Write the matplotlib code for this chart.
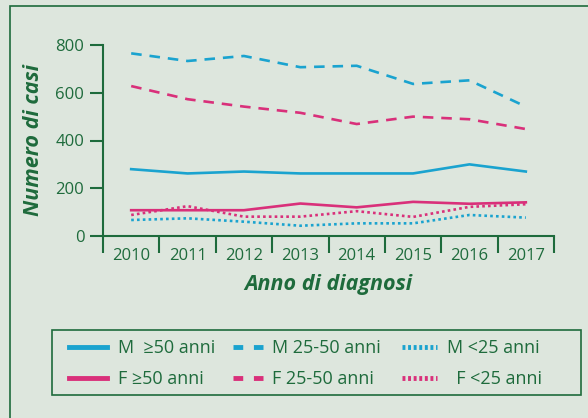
import matplotlib.pyplot as plt
from matplotlib.patches import Rectangle

# %% Data

anni = ["2010", "2011", "2012", "2013", "2014", "2015", "2016", "2017"]

m_over50 = [280, 262, 270, 262, 262, 262, 300, 270]
m_25_50 = [765, 733, 754, 707, 713, 637, 652, 542]
m_under25 = [67, 74, 60, 43, 53, 53, 88, 77]

f_over50 = [108, 108, 108, 136, 120, 143, 135, 141]
f_25_50 = [628, 573, 542, 516, 469, 500, 489, 448]
f_under25 = [88, 125, 81, 81, 104, 80, 122, 133]

series = [
    ("M  ≥50 anni", m_over50, "blue", "solid"),
    ("F ≥50 anni", f_over50, "pink", "solid"),
    ("M 25-50 anni", m_25_50, "blue", "dashed"),
    ("F 25-50 anni", f_25_50, "pink", "dashed"),
    ("M <25 anni", m_under25, "blue", "dotted"),
    ("  F <25 anni", f_under25, "pink", "dotted"),
]

# %% Style

bg = "#dde6dd"
green = "#1e6b3c"
colors = {"blue": "#1aa3cf", "pink": "#d9307a"}
styles = {"solid": "-", "dashed": (0, (4, 3)), "dotted": (0, (1, 1.2))}
# legend handles are thicker, so shorter dash patterns there
leg_styles = {"solid": "-", "dashed": (0, (2, 2.2)), "dotted": (0, (0.6, 0.55))}

# legend columns: left x (px), handle length and text pad (in font sizes)
leg_cols = [(69, 2.1, 0.6), (233, 1.66, 0.5), (402, 1.94, 0.55)]

plt.rcParams["font.family"] = ["Open Sans", "DejaVu Sans"]

fig = plt.figure(figsize=(5.88, 4.18), dpi=100, facecolor=bg)

# outer frame
fig.patches.append(Rectangle((10 / 588, -0.1), 1.2, 1 - 6 / 418 + 0.1,
                             transform=fig.transFigure, fill=False,
                             edgecolor=green, linewidth=1.2))

ax = fig.add_axes([103 / 588, 1 - 236 / 418, (554 - 103) / 588, (236 - 45) / 418])
ax.set_facecolor("none")

x = list(range(len(anni)))
handles = []
for label, vals, col, st in series:
    line, = ax.plot(x, vals, color=colors[col], linestyle=styles[st],
                    linewidth=1.9, label=label)
    handles.append(line)

ax.set_xlim(-0.5, 7.5)
ax.set_ylim(0, 800)

for s in ["top", "right"]:
    ax.spines[s].set_visible(False)
for s in ["left", "bottom"]:
    ax.spines[s].set_color(green)
    ax.spines[s].set_linewidth(1.5)

ax.set_yticks([0, 200, 400, 600, 800])
ax.tick_params(axis="y", colors=green, labelcolor=green, length=9.5, width=1.5,
               labelsize=12, pad=4)

# boundary ticks (major) and centred year labels (minor)
ax.set_xticks([i - 0.5 for i in range(len(anni) + 1)])
ax.set_xticklabels([])
ax.set_xticks(x, minor=True)
ax.set_xticklabels(anni, minor=True)
ax.tick_params(axis="x", which="major", colors=green, length=12, width=1.5)
ax.tick_params(axis="x", which="minor", length=0, labelcolor=green,
               labelsize=12, pad=9)
ax.xaxis.get_major_ticks()[-1].tick1line.set_color(colors["blue"])

ax.set_ylabel("Numero di casi", color=green, fontsize=15.5, fontweight="bold",
              fontstyle="italic", labelpad=8)
ax.set_xlabel("Anno di diagnosi", color=green, fontsize=15.5, fontweight="bold",
              fontstyle="italic", labelpad=7)

# legend: frame drawn separately, one small legend per column
fig.patches.append(Rectangle((52 / 588, 1 - 395 / 418), (581 - 52) / 588, 65 / 418,
                             transform=fig.transFigure, fill=False,
                             edgecolor=green, linewidth=1.2))
for ci, (lx, hlen, hpad) in enumerate(leg_cols):
    col_series = series[2 * ci:2 * ci + 2]
    leg = fig.legend(handles=handles[2 * ci:2 * ci + 2], loc="upper left",
                     bbox_to_anchor=(lx / 588, 1 - 339 / 418),
                     ncol=1, frameon=False, fontsize=13,
                     handlelength=hlen, handletextpad=hpad,
                     labelspacing=0.72, borderpad=0, borderaxespad=0)
    for t in leg.get_texts():
        t.set_color(green)
    for h, (_, _, _, st) in zip(leg.legend_handles, col_series):
        h.set_linewidth(3.5)
        h.set_linestyle(leg_styles[st])

fig.savefig("out.png", dpi=100, facecolor=bg)
